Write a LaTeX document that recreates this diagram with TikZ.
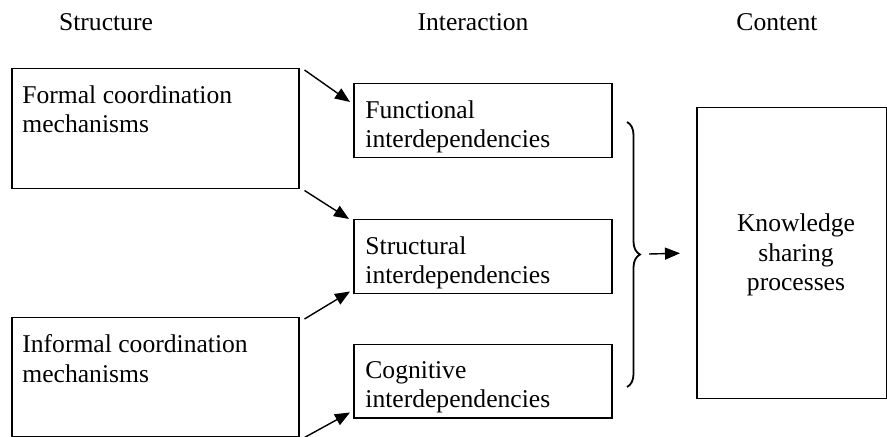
\documentclass[tikz,border=0pt]{standalone}
\usepackage{fontspec}
\setmainfont{Liberation Serif}
\usetikzlibrary{arrows.meta,decorations.pathreplacing}

\begin{document}
\begin{tikzpicture}[
      x=0.5pt, y=-0.5pt,
      box/.style={draw, line width=0.75pt, inner sep=0pt, anchor=north west},
      txt/.style={align=left, inner sep=0pt, anchor=north west},
      head/.style={anchor=base, inner sep=0pt},
      link/.style={line width=0.7pt, -{Triangle[length=7.5pt, width=6pt]}},
      every node/.style={font=\fontsize{12.8}{14.8}\selectfont}
    ]
    \useasboundingbox (0,0) rectangle (887,437);
    \node[head] (structure) at (106,31) {Structure};
    \node[head] (interaction) at (473,31) {Interaction};
    \node[head] (content) at (777,31) {Content};

    \node[box, minimum width=143.5pt, minimum height=60pt] (formal) at (11,68) {};
    \node[txt] at ([shift={(11,17)}]formal.north west) {Formal coordination\\mechanisms};
    \node[box, minimum width=143.5pt, minimum height=59.5pt] (informal) at (11,317) {};
    \node[txt] at ([shift={(11,17)}]informal.north west) {Informal coordination\\mechanisms};

    \node[box, minimum width=129pt, minimum height=37pt] (functional) at (353,83) {};
    \node[txt] at ([shift={(12,17)}]functional.north west) {Functional\\interdependencies};
    \node[box, minimum width=129pt, minimum height=37pt] (structural) at (353,219) {};
    \node[txt] at ([shift={(12,17)}]structural.north west) {Structural\\interdependencies};
    \node[box, minimum width=129pt, minimum height=36.5pt] (cognitive) at (353,344) {};
    \node[txt] at ([shift={(12,17)}]cognitive.north west) {Cognitive\\interdependencies};

    \node[box, minimum width=95pt, minimum height=145.5pt] (knowledge) at (696,107) {};
    \node[align=center, inner sep=0pt] at (796,255) {Knowledge\\sharing\\processes};

    \draw[link] ([shift={(5,2)}]formal.north east) -- ([shift={(-3,19)}]functional.north west);
    \draw[link] ([shift={(5,1)}]formal.south east) -- ([shift={(-4,0)}]structural.north west);
    \draw[link] ([shift={(5,2)}]informal.north east) -- ([shift={(-3,-3)}]structural.south west);
    \draw[link] ([shift={(5,0)}]informal.south east) -- ([shift={(-3,-6)}]cognitive.south west);

    \coordinate (btop) at (627,122);
    \coordinate (bbot) at (627,387);
    \draw[line width=0.9pt, decorate, decoration={brace, amplitude=6.5pt}] (btop) -- (bbot);
    \coordinate (bout) at (649,254);
    \draw[link] (bout) -- ([shift={(-16,0)}]knowledge.west);
    \end{tikzpicture}
\end{document}
